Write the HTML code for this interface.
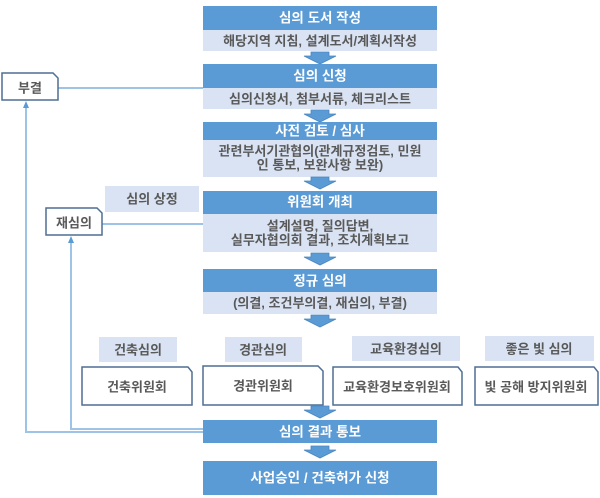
<!DOCTYPE html>
<html><head><meta charset="utf-8"><style>
html,body{margin:0;padding:0;background:#fff;}
svg{display:block}
text{font-family:"Liberation Sans","Noto Sans CJK KR",sans-serif;font-weight:bold;text-anchor:middle;dominant-baseline:central}
.h{fill:#fff;font-size:13.5px}
.l{fill:#595959;font-size:13px}
</style></head><body>
<svg width="600" height="498" viewBox="0 0 600 498" xmlns="http://www.w3.org/2000/svg">
<defs>
<g id="arr"><path d="M-9,0 H9 V4 H16 L0,12 L-16,4 H-9 Z" fill="#5b9bd5" stroke="#4a86c0" stroke-width="0.8"/></g>
</defs>
<g stroke="#9dc3e6" stroke-width="2" fill="none">
<line x1="58" y1="88" x2="203" y2="88"/>
<line x1="102" y1="224" x2="203" y2="224"/>
<polyline points="26,106 26,432 203,432"/>
<polyline points="71,241 71,429 203,429"/>
</g>
<path d="M26,101 L23,108 L29,108 Z" fill="#5b9bd5"/>
<path d="M71,236 L68,243 L74,243 Z" fill="#5b9bd5"/>

<rect x="203" y="6" width="234" height="24" fill="#5b9bd5"/>
<text class="h" x="320" y="18">심의 도서 작성</text>
<rect x="203" y="30" width="234" height="21" fill="#dae3f3"/>
<text class="l" x="320" y="41">해당지역 지침, 설계도서/계획서작성</text>
<use href="#arr" x="320" y="52"/>

<rect x="203" y="64" width="234" height="24" fill="#5b9bd5"/>
<text class="h" x="320" y="76">심의 신청</text>
<rect x="203" y="88" width="234" height="21" fill="#dae3f3"/>
<text class="l" x="320" y="99">심의신청서, 첨부서류, 체크리스트</text>
<use href="#arr" x="320" y="110"/>

<rect x="203" y="122" width="234" height="18" fill="#5b9bd5"/>
<text class="h" x="320" y="131">사전 검토 / 심사</text>
<rect x="203" y="140" width="234" height="37" fill="#dae3f3"/>
<text class="l" x="320" y="151">관련부서기관협의(관계규정검토, 민원</text>
<text class="l" x="320" y="165">인 통보, 보완사항 보완)</text>
<use href="#arr" x="320" y="177"/>

<rect x="105" y="186" width="94" height="26" fill="#dae3f3"/>
<text class="l" x="152" y="199">심의 상정</text>

<rect x="203" y="191" width="234" height="23" fill="#5b9bd5"/>
<text class="h" x="320" y="202">위원회 개최</text>
<rect x="203" y="214" width="234" height="38" fill="#dae3f3"/>
<text class="l" x="320" y="226">설계설명, 질의답변,</text>
<text class="l" x="320" y="240">실무자협의회 결과, 조치계획보고</text>
<use href="#arr" x="320" y="253"/>

<rect x="203" y="269" width="234" height="23" fill="#5b9bd5"/>
<text class="h" x="320" y="281">정규 심의</text>
<rect x="203" y="292" width="234" height="22" fill="#dae3f3"/>
<text class="l" x="320" y="303">(의결, 조건부의결, 재심의, 부결)</text>
<use href="#arr" x="320" y="315"/>

<rect x="99" y="337" width="78" height="25" fill="#dae3f3"/>
<text class="l" x="138" y="350">건축심의</text>
<rect x="225" y="337" width="77" height="25" fill="#dae3f3"/>
<text class="l" x="263" y="350">경관심의</text>
<rect x="352" y="336" width="108" height="25" fill="#dae3f3"/>
<text class="l" x="406" y="349">교육환경심의</text>
<rect x="485" y="336" width="109" height="25" fill="#dae3f3"/>
<text class="l" x="539" y="349">좋은 빛 심의</text>

<g fill="#fff" stroke="#4f6f94" stroke-width="1.5">
<path d="M82,367 H188 L192,372 V405 H82 Z"/>
<path d="M203,366 H318 L323,371 V405 H203 Z"/>
<path d="M333,367 H458 L462,372 V405 H333 Z"/>
<path d="M475,367 H594 L598,372 V405 H475 Z"/>
<path d="M2,73 H53 L58,78 V100 H2 Z"/>
<path d="M46,208 H97 L102,213 V235 H46 Z"/>
</g>
<text class="l" x="137" y="387">건축위원회</text>
<text class="l" x="263" y="386">경관위원회</text>
<text class="l" x="397" y="387">교육환경보호위원회</text>
<text class="l" x="536" y="387">빛 공해 방지위원회</text>
<text class="l" x="30" y="88">부결</text>
<text class="l" x="74" y="223">재심의</text>

<use href="#arr" x="320" y="406"/>
<rect x="203" y="420" width="234" height="23" fill="#5b9bd5"/>
<text class="h" x="320" y="432">심의 결과 통보</text>
<use href="#arr" x="320" y="446"/>
<rect x="203" y="461" width="234" height="34" fill="#5b9bd5"/>
<text class="h" x="320" y="478">사업승인 / 건축허가 신청</text>
</svg>
</body></html>
